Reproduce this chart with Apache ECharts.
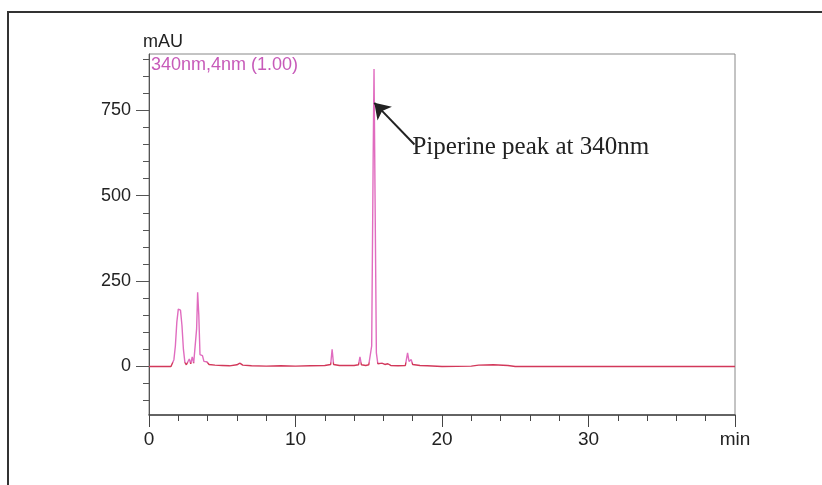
<!DOCTYPE html>
<html>
<head>
<meta charset="utf-8">
<script src="https://cdn.jsdelivr.net/npm/echarts@6/dist/echarts.min.js"></script>
<style>html,body{margin:0;padding:0;background:#fff;}#c{width:822px;height:485px;}</style>
</head>
<body>
<div id="c"></div>
<script>
// Retention time (min) and absorbance (mAU)
const times = [0, 1.5, 1.6, 1.7, 1.8, 1.9, 2.0, 2.05, 2.15, 2.25, 2.35, 2.45, 2.55, 2.65, 2.75, 2.85, 2.95, 3.05, 3.15, 3.25, 3.32, 3.4, 3.48, 3.55, 3.65, 3.75, 3.85, 3.95, 4.1, 4.5, 5.0, 5.5, 6.0, 6.2, 6.4, 7.0, 8.0, 9.0, 10.0, 11.0, 12.0, 12.4, 12.5, 12.6, 13.0, 14.0, 14.3, 14.4, 14.5, 14.8, 15.0, 15.2, 15.3, 15.36, 15.43, 15.52, 15.62, 15.75, 15.9, 16.1, 16.3, 16.5, 17.0, 17.5, 17.65, 17.75, 17.9, 18.0, 18.5, 19.0, 20.0, 22.0, 22.5, 23.5, 24.5, 25.0, 40];
const mAU   = [0, 0, 3, 20, 60, 130, 168, 173, 165, 120, 50, 12, 5, 8, 22, 8, 28, 10, 15, 110, 217, 150, 35, 30, 32, 15, 12, 14, 6, 4, 3, 2, 5, 10, 4, 2, 1, 2, 1, 2, 3, 6, 50, 6, 3, 3, 5, 28, 5, 3, 5, 60, 600, 871, 500, 40, 8, 5, 10, 6, 8, 3, 2, 3, 40, 15, 20, 6, 3, 2, 0, 1, 4, 5, 3, 0, 0];
const xTickLabels = ['0', '10', '20', '30', 'min'];
const yLabelValues = [0, 250, 500, 750];
const yMinorTicks = [-100, -50, 0, 50, 100, 150, 200, 250, 300, 350, 400, 450, 500, 550, 600, 650, 700, 750, 800, 850, 900];
const seriesName = '340nm,4nm (1.00)';
const annotationText = 'Piperine peak at 340nm';
const arrowFrom = [18.12, 650];
const arrowTo = [15.38, 772];
const textAnchor = [17.95, 641];

const chart = echarts.init(document.getElementById('c'));
const data = times.map((t, i) => [t, mAU[i]]);
const lineColor = new echarts.graphic.LinearGradient(0, 0, 0, 1, [
  {offset: 0, color: '#e06cbf'},
  {offset: 0.975, color: '#e06cbf'},
  {offset: 0.982, color: '#d2385a'},
  {offset: 1, color: '#d2385a'}
]);
chart.setOption({
  animation: false,
  graphic: [{
    type: 'rect', shape: {x: 8, y: 12, width: 830, height: 490},
    style: {fill: 'none', stroke: '#333', lineWidth: 2}, silent: true
  }],
  grid: {left: 149, right: 87, top: 54, bottom: 70, show: true, borderColor: '#888', borderWidth: 1},
  legend: {
    left: 146, top: 56, icon: 'none', itemWidth: 0, itemGap: 0, padding: 0,
    selectedMode: false,
    textStyle: {color: '#c75ab9', fontSize: 18, fontFamily: 'Liberation Sans'}
  },
  xAxis: {
    type: 'value', min: 0, max: 40, interval: 10,
    axisLine: {show: true, onZero: false, lineStyle: {color: '#444', width: 1.5}},
    axisTick: {show: true, length: 12, lineStyle: {color: '#444'}},
    minorTick: {show: true, splitNumber: 5, length: 6, lineStyle: {color: '#444'}},
    splitLine: {show: false},
    axisLabel: {
      margin: 15, fontSize: 19, color: '#222', fontFamily: 'Liberation Sans',
      formatter: v => xTickLabels[Math.round(v / 10)]
    }
  },
  yAxis: [{
    type: 'value', min: -142, max: 915, position: 'left',
    name: 'mAU', nameLocation: 'end', nameGap: 3,
    nameTextStyle: {fontSize: 18, color: '#222', fontFamily: 'Liberation Sans', align: 'center', padding: [0, 0, 0, 28]},
    axisLine: {show: true, lineStyle: {color: '#555'}},
    axisTick: {show: true, length: 13, customValues: yLabelValues, lineStyle: {color: '#555'}},
    axisLabel: {customValues: yLabelValues, margin: 18, fontSize: 18, color: '#222', fontFamily: 'Liberation Sans'},
    splitLine: {show: false}
  }, {
    type: 'value', min: -142, max: 915, position: 'left',
    axisLine: {show: false},
    axisTick: {show: true, length: 6, customValues: yMinorTicks, lineStyle: {color: '#555'}},
    axisLabel: {show: false},
    splitLine: {show: false}
  }],
  series: [{
    name: seriesName, type: 'line', data: data, showSymbol: false, symbol: 'none',
    lineStyle: {width: 1.4, color: lineColor},
    itemStyle: {color: '#c75ab9'},
    markLine: {
      silent: true, symbol: ['none', 'arrow'], symbolSize: 15,
      label: {show: false},
      lineStyle: {color: '#222', width: 2, type: 'solid'},
      data: [[{coord: arrowFrom}, {coord: arrowTo}]]
    },
    markPoint: {
      silent: true, symbol: 'circle', symbolSize: 1,
      itemStyle: {color: 'rgba(0,0,0,0)'},
      label: {show: true, position: 'right', distance: 0, formatter: annotationText,
        color: '#222', fontSize: 25, fontFamily: 'Liberation Serif'},
      data: [{coord: textAnchor}]
    }
  }]
});
</script>
</body>
</html>
